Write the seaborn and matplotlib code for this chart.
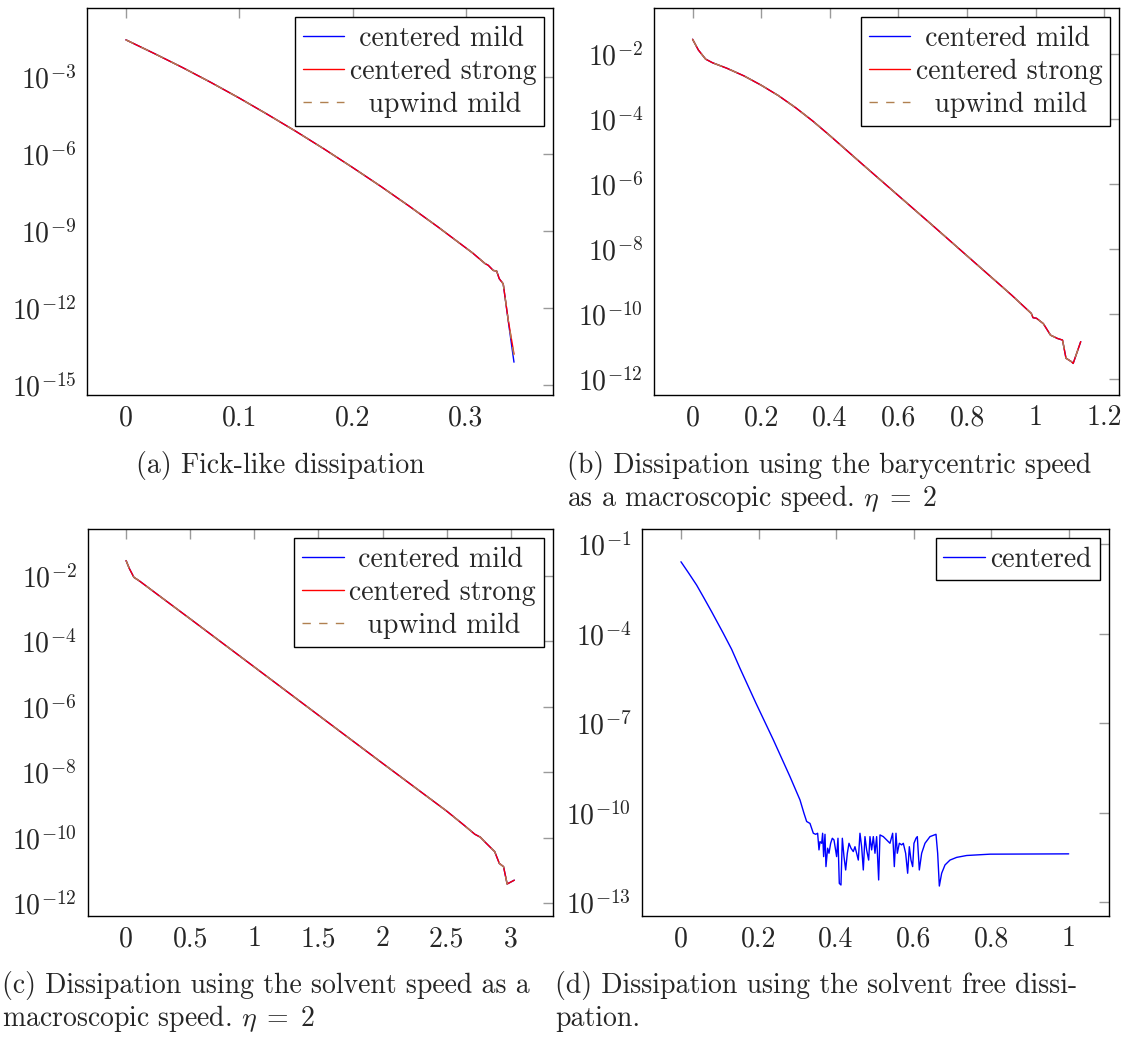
import matplotlib
matplotlib.use("Agg")
import matplotlib.pyplot as plt
import seaborn as sns
from matplotlib.ticker import NullLocator

# ---------------- data ----------------
# (a) Fick-like dissipation
a_x = [0.0, 0.025, 0.05, 0.075, 0.10, 0.125, 0.15, 0.175, 0.20, 0.225, 0.25,
       0.275, 0.30, 0.306, 0.3168, 0.3197, 0.3241, 0.3271, 0.3294, 0.3329,
       0.3374, 0.3424]
a_centered_mild = [2.9e-2, 8.5e-3, 2.40e-3, 6.3e-4, 1.55e-4, 3.55e-5, 7.76e-6,
                   1.58e-6, 3.02e-7, 5.5e-8, 9.33e-9, 1.48e-9, 2.19e-10,
                   1.38e-10, 5.4e-11, 4.6e-11, 2.9e-11, 2.75e-11, 1.38e-11,
                   8.7e-12, 3.0e-13, 7.6e-15]
a_centered_strong = [2.9e-2, 8.5e-3, 2.40e-3, 6.3e-4, 1.55e-4, 3.55e-5, 7.76e-6,
                     1.58e-6, 3.02e-7, 5.5e-8, 9.33e-9, 1.48e-9, 2.19e-10,
                     1.38e-10, 5.4e-11, 4.6e-11, 2.9e-11, 2.75e-11, 1.38e-11,
                     8.7e-12, 3.2e-13, 1.58e-14]
a_upwind_mild = [2.9e-2, 8.5e-3, 2.40e-3, 6.3e-4, 1.55e-4, 3.55e-5, 7.76e-6,
                 1.58e-6, 3.02e-7, 5.5e-8, 9.33e-9, 1.48e-9, 2.19e-10,
                 1.38e-10, 5.4e-11, 4.6e-11, 2.9e-11, 2.75e-11, 1.38e-11,
                 8.7e-12, 3.2e-13, 1.3e-14]

# (b) barycentric speed
b_x = [0.0, 0.017, 0.038, 0.058, 0.10, 0.15, 0.20, 0.25, 0.30, 0.35, 0.40,
       0.50, 0.60, 0.70, 0.80, 0.90, 0.931, 0.987, 0.992, 1.002, 1.022, 1.043,
       1.063, 1.078, 1.088, 1.104, 1.109, 1.131]
b_centered_mild = [2.9e-2, 1.35e-2, 7.1e-3, 5.5e-3, 3.72e-3, 2.16e-3, 1.12e-3,
                   5.37e-4, 2.29e-4, 8.9e-5, 3.16e-5, 3.72e-6, 4.47e-7, 5.37e-8,
                   6.3e-9, 7.4e-10, 3.8e-10, 1.07e-10, 7.9e-11, 7.6e-11,
                   5.2e-11, 2.3e-11, 1.82e-11, 1.62e-11, 4.5e-12, 3.5e-12,
                   3.1e-12, 1.45e-11]
b_centered_strong = list(b_centered_mild)
b_upwind_mild = list(b_centered_mild)

# (c) solvent speed
c_x = [0.0, 0.025, 0.061, 0.103, 0.25, 0.5, 1.0, 1.5, 2.0, 2.5, 2.638, 2.72,
       2.763, 2.805, 2.875, 2.911, 2.944, 2.972, 3.028]
c_centered_mild = [2.95e-2, 1.7e-2, 9.1e-3, 7.1e-3, 2.63e-3, 4.9e-4, 1.66e-5,
                   5.6e-7, 1.9e-8, 6.6e-10, 2.4e-10, 1.29e-10, 1.05e-10,
                   7.1e-11, 3.8e-11, 1.66e-11, 1.32e-11, 3.9e-12, 5.1e-12]
c_centered_strong = list(c_centered_mild)
c_upwind_mild = list(c_centered_mild)

# (d) solvent free dissipation
d_x = [0.0, 0.0198, 0.0404, 0.0593, 0.0791, 0.1092, 0.1307, 0.1522, 0.1935,
       0.2382, 0.2812, 0.3070, 0.3173, 0.3242, 0.3328, 0.3414,
       0.3474, 0.3525, 0.3560, 0.3586, 0.3629, 0.3654, 0.3680, 0.3715, 0.3740,
       0.3783, 0.3818, 0.3861, 0.3904, 0.3947, 0.3981, 0.4015, 0.4050, 0.4084,
       0.4127, 0.4162, 0.4205, 0.4248, 0.4291, 0.4334, 0.4385, 0.4445, 0.4488,
       0.4531, 0.4574, 0.4617, 0.4660, 0.4703, 0.4746, 0.4789, 0.4841, 0.4875,
       0.4918, 0.4961, 0.5004, 0.5047, 0.5099, 0.5133, 0.5219, 0.5305, 0.5391,
       0.5460, 0.5503, 0.5546, 0.5580, 0.5632, 0.5692, 0.5735, 0.5795, 0.5847,
       0.5890, 0.5933, 0.5976, 0.6010, 0.6062, 0.6096, 0.6148, 0.6208, 0.6294,
       0.6423, 0.6578, 0.6621, 0.6664, 0.6724, 0.6810, 0.6939, 0.7111, 0.7369,
       0.7971, 1.0]
d_centered = [2.6e-2, 1.09e-2, 4.3e-3, 1.59e-3, 5.5e-4, 1.04e-4, 3.02e-5,
              7.0e-6, 4.7e-7, 2.8e-8, 1.63e-9, 2.7e-10, 9.6e-11, 5.1e-11,
              4.4e-11, 2.06e-11,
              1.9e-11, 2.06e-11, 5.7e-12, 1.08e-11, 9.5e-12, 2.06e-11, 3.4e-12,
              1.9e-11, 1.57e-12, 6.5e-12, 4.4e-12, 9.5e-12, 1.40e-11, 1.23e-11,
              6.5e-12, 3.4e-12, 1.40e-11, 4.3e-13, 3.8e-13, 1.40e-11, 3.4e-12,
              1.21e-12, 4.4e-12, 9.5e-12, 6.5e-12, 5.0e-12, 7.3e-12, 4.4e-12,
              2.6e-12, 2.06e-11, 7.3e-12, 1.21e-12, 1.59e-11, 5.7e-12, 2.6e-12,
              1.59e-11, 5.7e-12, 1.59e-11, 4.4e-12, 1.59e-11, 5.6e-13, 1.81e-11,
              1.59e-11, 1.23e-11, 9.5e-12, 2.06e-11, 1.57e-12, 2.06e-11, 4.4e-12,
              9.5e-12, 8.4e-12, 9.5e-12, 4.4e-12, 9.4e-13, 7.3e-12, 2.6e-12,
              1.57e-12, 9.5e-12, 1.40e-11, 1.59e-11, 1.21e-12, 4.4e-12, 9.5e-12,
              1.59e-11, 1.9e-11, 4.4e-12, 3.5e-13, 9.4e-13, 1.78e-12, 2.6e-12,
              3.2e-12, 3.7e-12, 4.1e-12, 4.2e-12]

# tick labels
a_xticks = [0, 0.1, 0.2, 0.3]
a_xticklabels = ["0", "0.1", "0.2", "0.3"]
a_yexp = [-15, -12, -9, -6, -3]
b_xticks = [0, 0.2, 0.4, 0.6, 0.8, 1.0, 1.2]
b_xticklabels = ["0", "0.2", "0.4", "0.6", "0.8", "1", "1.2"]
b_yexp = [-12, -10, -8, -6, -4, -2]
c_xticks = [0, 0.5, 1.0, 1.5, 2.0, 2.5, 3.0]
c_xticklabels = ["0", "0.5", "1", "1.5", "2", "2.5", "3"]
c_yexp = [-12, -10, -8, -6, -4, -2]
d_xticks = [0, 0.2, 0.4, 0.6, 0.8, 1.0]
d_xticklabels = ["0", "0.2", "0.4", "0.6", "0.8", "1"]
d_yexp = [-13, -10, -7, -4, -1]

# legend labels (leading spaces emulate the centred pgfplots legend cells)
lab_mild = " centered mild"
lab_strong = "centered strong"
lab_upwind = "  upwind mild"
lab_centered = "centered"

# captions
cap_a = "(a) Fick-like dissipation"
cap_b1 = "(b) Dissipation using the barycentric speed"
cap_b2 = r"as a macroscopic speed. $\eta\;=\;2$"
cap_c1 = "(c) Dissipation using the solvent speed as a"
cap_c2 = r"macroscopic speed. $\eta\;=\;2$"
cap_d1 = "(d) Dissipation using the solvent free dissi-"
cap_d2 = "pation."

# ---------------- style ----------------
sns.set_style("white")
plt.rcParams["font.family"] = ["cmr10", "DejaVu Serif"]
plt.rcParams["mathtext.fontset"] = "cm"
plt.rcParams["axes.formatter.use_mathtext"] = True
plt.rcParams["font.size"] = 20

BLUE = "#0000ff"
RED = "#ff0000"
BROWN = "#b08050"
FS = 20

W, H = 1127, 1041
fig = plt.figure(figsize=(W / 100, H / 100), dpi=100)


def make_axes(left, right, top, bottom):
    return fig.add_axes([left / W, 1 - bottom / H, (right - left) / W, (bottom - top) / H])


def style_axes(ax, xlim, ylim, xticks, xlabels, yexp):
    ax.set_xlim(*xlim)
    ax.set_ylim(*ylim)
    ax.set_xticks(xticks)
    ax.set_xticklabels(xlabels)
    ax.set_yticks([10.0 ** e for e in yexp])
    ax.set_yticklabels([r"$10^{%d}$" % e for e in yexp])
    ax.yaxis.set_minor_locator(NullLocator())
    ax.xaxis.set_minor_locator(NullLocator())
    ax.tick_params(axis="both", which="major", direction="in", length=7.2,
                   width=1.0, color="#9a9a9a", top=True, right=True,
                   labelsize=FS)
    ax.tick_params(axis="y", pad=8)
    ax.tick_params(axis="x", pad=7)
    ax.set_xlabel("")
    ax.set_ylabel("")
    ax.grid(False)
    for s in ax.spines.values():
        s.set_visible(True)
        s.set_color("black")
        s.set_linewidth(1.0)


def add_legend(ax):
    leg = ax.legend(loc="upper right", frameon=True, fancybox=False,
                    edgecolor="black", framealpha=1.0, borderaxespad=0.33,
                    handlelength=1.5, handletextpad=0.2, borderpad=0.28,
                    labelspacing=0.25, prop={"family": ["cmr10"], "size": FS})
    leg.get_frame().set_linewidth(1.0)
    return leg


def three_series(ax, x, mild, strong, upwind):
    sns.lineplot(x=x, y=mild, ax=ax, color=BLUE, lw=1.0, label=lab_mild,
                 estimator=None, sort=False)
    sns.lineplot(x=x, y=strong, ax=ax, color=RED, lw=1.0, label=lab_strong,
                 estimator=None, sort=False)
    sns.lineplot(x=x, y=upwind, ax=ax, color=BROWN, lw=1.0, label=lab_upwind,
                 estimator=None, sort=False, linestyle=(0, (6, 6)))


# panel (a)
ax_a = make_axes(87.3, 553.3, 8.3, 395.0)
ax_a.set_yscale("log")
three_series(ax_a, a_x, a_centered_mild, a_centered_strong, a_upwind_mild)
style_axes(ax_a, (-0.0341, 0.3771), (10 ** -15.40, 10 ** -0.306),
           a_xticks, a_xticklabels, a_yexp)
add_legend(ax_a)

# panel (b)
ax_b = make_axes(653.9, 1119.4, 8.3, 395.0)
ax_b.set_yscale("log")
three_series(ax_b, b_x, b_centered_mild, b_centered_strong, b_upwind_mild)
style_axes(ax_b, (-0.1127, 1.2437), (10 ** -12.48, 10 ** -0.585),
           b_xticks, b_xticklabels, b_yexp)
add_legend(ax_b)

# panel (c)
ax_c = make_axes(87.5, 552.9, 529.3, 916.0)
ax_c.set_yscale("log")
three_series(ax_c, c_x, c_centered_mild, c_centered_strong, c_upwind_mild)
style_axes(ax_c, (-0.301, 3.329), (10 ** -12.387, 10 ** -0.574),
           c_xticks, c_xticklabels, c_yexp)
add_legend(ax_c)

# panel (d)
ax_d = make_axes(642.3, 1109.0, 529.3, 916.3)
ax_d.set_yscale("log")
sns.lineplot(x=d_x, y=d_centered, ax=ax_d, color=BLUE, lw=1.0,
             label=lab_centered, estimator=None, sort=False)
style_axes(ax_d, (-0.0997, 1.104), (10 ** -13.47, 10 ** -0.497),
           d_xticks, d_xticklabels, d_yexp)
add_legend(ax_d)

# captions
fig.text(280 / W, 1 - 465 / H, cap_a, ha="center", va="center", fontsize=FS)
fig.text(567 / W, 1 - 465 / H, cap_b1, ha="left", va="center", fontsize=FS)
fig.text(567 / W, 1 - 498 / H, cap_b2, ha="left", va="center", fontsize=FS)
fig.text(2 / W, 1 - 985 / H, cap_c1, ha="left", va="center", fontsize=FS)
fig.text(2 / W, 1 - 1019 / H, cap_c2, ha="left", va="center", fontsize=FS)
fig.text(555 / W, 1 - 985 / H, cap_d1, ha="left", va="center", fontsize=FS)
fig.text(555 / W, 1 - 1019 / H, cap_d2, ha="left", va="center", fontsize=FS)

fig.savefig("out.png", dpi=100)
